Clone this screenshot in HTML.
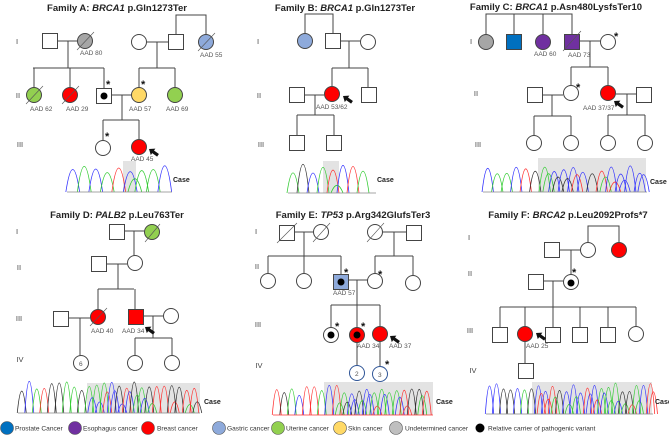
<!DOCTYPE html>
<html><head><meta charset="utf-8">
<style>
html,body{margin:0;padding:0;background:#fff;}
svg{display:block;font-family:"Liberation Sans",sans-serif;}
.t{font-size:9.5px;font-weight:bold;fill:#222;text-anchor:middle;}
.g{font-size:7.5px;fill:#444;text-anchor:middle;}
.l{font-size:6.5px;fill:#555;}
.a{font-size:11px;font-weight:bold;fill:#111;}
.c{font-size:7px;font-weight:bold;fill:#222;}
.lg{font-size:6.6px;fill:#333;}
.s{stroke:#444;stroke-width:1;fill:none;}
.n{stroke:#444;stroke-width:1;}
.sl{stroke:#555;stroke-width:0.6;}
</style></head><body>
<svg id="S" width="669" height="436" viewBox="0 0 669 436" xmlns="http://www.w3.org/2000/svg">
<defs>
<polygon id="arr" points="0,0 5,-4 5,-1.6 11,-1.6 11,1.6 5,1.6 5,4" fill="#111" transform="rotate(35)"/>
</defs>
<g id="chrom"></g>

<!-- ============ Panel A ============ -->
<text class="t" x="117" y="11">Family A: <tspan font-style="italic">BRCA1</tspan> p.Gln1273Ter</text>
<text class="g" x="17" y="44">I</text><text class="g" x="18" y="98">II</text><text class="g" x="20" y="147">III</text>
<path class="s" d="M58 41H77 M68 41V68 M33 68H104 M34 68V87 M70 68V87 M104 68V88
M147 42H168 M176 34V15H206V34 M157 42V68 M139 68H175 M139 68V87 M175 68V87
M111 95H131 M122 95V120 M103 120H139 M103 120V140 M139 120V139"/>
<rect class="n" x="42.5" y="33.5" width="15" height="15" fill="#fff"/>
<circle class="n" cx="85" cy="41" r="7.5" fill="#a6a6a6"/><line class="sl" x1="77" y1="50" x2="94" y2="32"/>
<circle class="n" cx="139" cy="42" r="7.5" fill="#fff"/>
<rect class="n" x="168.5" y="34.5" width="15" height="15" fill="#fff"/>
<circle class="n" cx="206" cy="42" r="7.5" fill="#8eaadb"/><line class="sl" x1="198" y1="51" x2="215" y2="33"/>
<text class="l" x="80" y="55">AAD 80</text><text class="l" x="200" y="57">AAD 55</text>
<circle class="n" cx="34" cy="95" r="7.5" fill="#92d050"/><line class="sl" x1="26" y1="104" x2="43" y2="86"/>
<circle class="n" cx="70" cy="95" r="7.5" fill="#ff0000"/><line class="sl" x1="62" y1="104" x2="79" y2="86"/>
<rect class="n" x="96.5" y="88.5" width="15" height="15" fill="#fff"/><circle cx="104" cy="96" r="3.5" fill="#000"/>
<circle class="n" cx="139" cy="95" r="7.5" fill="#ffd966"/>
<circle class="n" cx="175" cy="95" r="7.5" fill="#92d050"/>
<text class="a" x="106" y="88">*</text><text class="a" x="141" y="88">*</text>
<text class="l" x="30" y="111">AAD 62</text><text class="l" x="66" y="111">AAD 29</text><text class="l" x="129" y="111">AAD 57</text><text class="l" x="166" y="111">AAD 69</text>
<circle class="n" cx="103" cy="148" r="7.5" fill="#fff"/>
<circle class="n" cx="139" cy="147" r="7.5" fill="#ff0000"/>
<text class="a" x="105" y="140">*</text>
<use href="#arr" x="149" y="149"/>
<text class="l" x="131" y="161">AAD 45</text>
<text class="c" x="173" y="182">Case</text>

<!-- ============ Panel B ============ -->
<text class="t" x="345" y="11">Family B: <tspan font-style="italic">BRCA1</tspan> p.Gln1273Ter</text>
<text class="g" x="258" y="44">I</text><text class="g" x="259" y="98">II</text><text class="g" x="261" y="147">III</text>
<path class="s" d="M305 33V14H333V33 M340 41H360 M349 41V68 M332 68H368 M332 68V86 M368 68V87
M305 95H324 M315 95V115 M297 115H334 M297 115V135 M334 115V135"/>
<circle class="n" cx="305" cy="41" r="7.5" fill="#8eaadb"/>
<rect class="n" x="325.5" y="33.5" width="15" height="15" fill="#fff"/>
<circle class="n" cx="368" cy="42" r="7.5" fill="#fff"/>
<rect class="n" x="289.5" y="87.5" width="15" height="15" fill="#fff"/>
<circle class="n" cx="332" cy="94" r="7.5" fill="#ff0000"/>
<rect class="n" x="361.5" y="87.5" width="15" height="15" fill="#fff"/>
<use href="#arr" x="343" y="96"/>
<text class="l" x="316" y="109">AAD 53/62</text>
<rect class="n" x="289.5" y="135.5" width="15" height="15" fill="#fff"/>
<rect class="n" x="326.5" y="135.5" width="15" height="15" fill="#fff"/>
<text class="c" x="377" y="182">Case</text>

<!-- ============ Panel C ============ -->
<text class="t" x="556" y="10">Family C: <tspan font-style="italic">BRCA1</tspan> p.Asn480LysfsTer10</text>
<text class="g" x="471" y="44">I</text><text class="g" x="476" y="96">II</text><text class="g" x="478" y="147">III</text>
<path class="s" d="M486 34V14H572V34 M514 14V34 M543 14V34 M580 41H600 M590 41V67 M571 67H608 M571 67V85 M608 67V85
M542 95H563 M552 95V116 M534 116H571 M534 116V135 M571 116V135
M616 94H636 M627 94V115 M608 115H645 M608 115V135 M645 115V135"/>
<circle class="n" cx="486" cy="42" r="7.5" fill="#a6a6a6"/>
<rect class="n" x="506.5" y="34.5" width="15" height="15" fill="#0070c0"/>
<circle class="n" cx="543" cy="42" r="7.5" fill="#7030a0"/>
<rect class="n" x="564.5" y="34.5" width="15" height="15" fill="#7030a0"/><line class="sl" x1="563" y1="51" x2="581" y2="31"/>
<circle class="n" cx="608" cy="42" r="7.5" fill="#fff"/>
<text class="a" x="614" y="40">*</text>
<text class="l" x="534" y="56">AAD 60</text><text class="l" x="568" y="57">AAD 73</text>
<rect class="n" x="527.5" y="87.5" width="15" height="15" fill="#fff"/>
<circle class="n" cx="571" cy="93" r="7.5" fill="#fff"/>
<circle class="n" cx="608" cy="93" r="7.5" fill="#ff0000"/>
<rect class="n" x="636.5" y="87.5" width="15" height="15" fill="#fff"/>
<text class="a" x="576" y="91">*</text>
<use href="#arr" x="614" y="101"/>
<text class="l" x="583" y="110">AAD 37/37</text>
<circle class="n" cx="534" cy="143" r="7.5" fill="#fff"/>
<circle class="n" cx="571" cy="143" r="7.5" fill="#fff"/>
<circle class="n" cx="608" cy="143" r="7.5" fill="#fff"/>
<circle class="n" cx="645" cy="143" r="7.5" fill="#fff"/>
<text class="c" x="650" y="184">Case</text>

<!-- ============ Panel D ============ -->
<text class="t" x="117" y="218">Family D: <tspan font-style="italic">PALB2</tspan> p.Leu763Ter</text>
<text class="g" x="17" y="234">I</text><text class="g" x="19" y="270">II</text><text class="g" x="19" y="321">III</text><text class="g" x="20" y="362">IV</text>
<path class="s" d="M124 231H144 M134 231V255 M107 264H127 M118 264V289 M98 289H134 M98 289V309 M135 289V310
M69 318H90 M80 318V355 M143 316H163 M153 316V338 M135 338H172 M135 338V355 M172 338V355"/>
<rect class="n" x="109.5" y="224.5" width="15" height="15" fill="#fff"/>
<circle class="n" cx="152" cy="232" r="7.5" fill="#92d050"/><line class="sl" x1="145" y1="242" x2="160" y2="224"/>
<rect class="n" x="91.5" y="256.5" width="15" height="15" fill="#fff"/>
<circle class="n" cx="135" cy="263" r="7.5" fill="#fff"/>
<rect class="n" x="53.5" y="311.5" width="15" height="15" fill="#fff"/>
<circle class="n" cx="98" cy="317" r="7.5" fill="#ff0000"/><line class="sl" x1="90" y1="326" x2="107" y2="308"/>
<rect class="n" x="128.5" y="309.5" width="15" height="15" fill="#ff0000"/>
<circle class="n" cx="171" cy="316" r="7.5" fill="#fff"/>
<use href="#arr" x="145" y="327"/>
<text class="l" x="91" y="333">AAD 40</text><text class="l" x="122" y="333">AAD 34</text>
<circle class="n" cx="81" cy="363" r="7.5" fill="#fff"/><text class="l" x="79" y="366">6</text>
<circle class="n" cx="135" cy="363" r="7.5" fill="#fff"/>
<circle class="n" cx="172" cy="363" r="7.5" fill="#fff"/>
<text class="c" x="204" y="404">Case</text>

<!-- ============ Panel E ============ -->
<text class="t" x="353" y="218">Family E: <tspan font-style="italic">TP53</tspan> p.Arg342GlufsTer3</text>
<text class="g" x="256" y="234">I</text><text class="g" x="257" y="269">II</text><text class="g" x="258" y="327">III</text><text class="g" x="259" y="368">IV</text>
<path class="s" d="M294 232H314 M304 232V256 M268 256H341 M268 256V273 M304 256V273 M341 256V274
M383 232H406 M394 232V256 M375 256H413 M375 256V273 M413 256V275
M348 280H368 M357 280V305 M331 305H380 M331 305V327 M357 305V327 M380 305V326
M357 343V366 M380 342V367"/>
<rect class="n" x="279.5" y="225.5" width="15" height="15" fill="#fff"/><line class="sl" x1="277" y1="243" x2="297" y2="223"/>
<circle class="n" cx="321" cy="232" r="7.5" fill="#fff"/><line class="sl" x1="313" y1="242" x2="330" y2="223"/>
<circle class="n" cx="375" cy="232" r="7.5" fill="#fff"/><line class="sl" x1="367" y1="242" x2="384" y2="223"/>
<rect class="n" x="406.5" y="225.5" width="15" height="15" fill="#fff"/>
<circle class="n" cx="268" cy="281" r="7.5" fill="#fff"/>
<circle class="n" cx="304" cy="281" r="7.5" fill="#fff"/>
<rect class="n" x="333.5" y="274.5" width="15" height="15" fill="#8eaadb"/><circle cx="341" cy="282" r="3.5" fill="#000"/>
<circle class="n" cx="375" cy="281" r="7.5" fill="#fff"/>
<circle class="n" cx="413" cy="283" r="7.5" fill="#fff"/>
<text class="a" x="344" y="276">*</text><text class="a" x="378" y="278">*</text>
<text class="l" x="333" y="295">AAD 57</text>
<circle class="n" cx="331" cy="335" r="7.5" fill="#fff"/><circle cx="331" cy="335" r="3.5" fill="#000"/>
<circle class="n" cx="357" cy="335" r="7.5" fill="#ff0000"/><circle cx="357" cy="335" r="3.5" fill="#000"/>
<circle class="n" cx="380" cy="334" r="7.5" fill="#ff0000"/>
<text class="a" x="335" y="330">*</text><text class="a" x="361" y="330">*</text>
<use href="#arr" x="390" y="336"/>
<text class="l" x="357" y="348">AAD 34</text><text class="l" x="389" y="348">AAD 37</text>
<circle cx="357" cy="373" r="7.5" fill="#fff" stroke="#2f5597" stroke-width="1"/><text class="l" x="355" y="376">2</text>
<circle cx="380" cy="374" r="7.5" fill="#fff" stroke="#2f5597" stroke-width="1"/><text class="l" x="378" y="377">3</text>
<text class="a" x="385" y="368">*</text>
<text class="c" x="436" y="404">Case</text>

<!-- ============ Panel F ============ -->
<text class="t" x="568" y="218">Family F: <tspan font-style="italic">BRCA2</tspan> p.Leu2092Profs*7</text>
<text class="g" x="469" y="240">I</text><text class="g" x="470" y="276">II</text><text class="g" x="470" y="333">III</text><text class="g" x="473" y="373">IV</text>
<path class="s" d="M588 243V226H619V243 M560 250H580 M571 250V274 M544 281H563 M553 281V307 M500 307H636
M500 307V327 M525 307V327 M553 307V327 M580 307V327 M608 307V327 M636 307V327 M525 342V363"/>
<rect class="n" x="544.5" y="242.5" width="15" height="15" fill="#fff"/>
<circle class="n" cx="588" cy="250" r="7.5" fill="#fff"/>
<circle class="n" cx="619" cy="250" r="7.5" fill="#ff0000"/>
<rect class="n" x="528.5" y="274.5" width="15" height="15" fill="#fff"/>
<circle class="n" cx="571" cy="282" r="7.5" fill="#fff"/><circle cx="571" cy="283" r="3.5" fill="#000"/>
<text class="a" x="572" y="276">*</text>
<rect class="n" x="492.5" y="327.5" width="15" height="15" fill="#fff"/>
<circle class="n" cx="525" cy="334" r="7.5" fill="#ff0000"/>
<rect class="n" x="545.5" y="327.5" width="15" height="15" fill="#fff"/>
<rect class="n" x="572.5" y="327.5" width="15" height="15" fill="#fff"/>
<rect class="n" x="600.5" y="327.5" width="15" height="15" fill="#fff"/>
<circle class="n" cx="636" cy="334" r="7.5" fill="#fff"/>
<use href="#arr" x="536" y="333"/>
<text class="l" x="526" y="348">AAD 25</text>
<rect class="n" x="518.5" y="363.5" width="15" height="15" fill="#fff"/>
<text class="c" x="655" y="404">Case</text>

<!-- ============ Legend ============ -->
<circle cx="7" cy="428" r="6.5" fill="#0070c0" stroke="#555" stroke-width="0.6"/><text class="lg" x="15" y="430.5">Prostate Cancer</text>
<circle cx="75" cy="428" r="6.5" fill="#7030a0" stroke="#555" stroke-width="0.6"/><text class="lg" x="83" y="430.5">Esophagus cancer</text>
<circle cx="148" cy="428" r="6.5" fill="#ff0000" stroke="#555" stroke-width="0.6"/><text class="lg" x="157" y="430.5">Breast cancer</text>
<circle cx="219" cy="428" r="6.5" fill="#8eaadb" stroke="#555" stroke-width="0.6"/><text class="lg" x="227" y="430.5">Gastric cancer</text>
<circle cx="278" cy="428" r="6.5" fill="#92d050" stroke="#555" stroke-width="0.6"/><text class="lg" x="286" y="430.5">Uterine cancer</text>
<circle cx="340" cy="428" r="6.5" fill="#ffd966" stroke="#555" stroke-width="0.6"/><text class="lg" x="348" y="430.5">Skin cancer</text>
<circle cx="396" cy="428" r="6.5" fill="#bfbfbf" stroke="#555" stroke-width="0.6"/><text class="lg" x="405" y="430.5">Undetermined cancer</text>
<circle cx="480" cy="428" r="4.5" fill="#000"/><text class="lg" x="488" y="430.5">Relative carrier of pathogenic variant</text>
</svg>
<script>
(function(){
var g=document.getElementById('chrom'),ns='http://www.w3.org/2000/svg';
var cols=['#33cc33','#3333ff','#ff3333','#333333'];
var seed=7;function rnd(){seed=(seed*9301+49297)%233280;return seed/233280;}
function el(n,a){var e=document.createElementNS(ns,n);for(var k in a)e.setAttribute(k,a[k]);g.appendChild(e);return e;}
function chrom(x0,x1,yt,yb,gx0,gx1,gy,sp,redBase){
 if(gx0!==null) el('rect',{x:gx0,y:gy,width:gx1-gx0,height:yb-gy,fill:'#e3e3e3'});
 for(var x=x0+sp/2;x<x1-sp/3;x+=sp){
  var c=cols[Math.floor(rnd()*4)],h=yt+rnd()*(yb-yt)*0.35,w=sp*0.6;
  el('path',{d:'M'+(x-w)+' '+yb+' Q'+x+' '+(2*h-yb)+' '+(x+w)+' '+yb,fill:'none',stroke:c,'stroke-width':0.8});
  if(gx0!==null && x>gx0 && x<gx1 && rnd()<0.8){
   var c2=cols[Math.floor(rnd()*4)],h2=yt+(yb-yt)*(0.3+rnd()*0.45),x2=x+sp*0.4;
   el('path',{d:'M'+(x2-w)+' '+yb+' Q'+x2+' '+(2*h2-yb)+' '+(x2+w)+' '+yb,fill:'none',stroke:c2,'stroke-width':0.8});
  }
 }
 el('line',{x1:x0,y1:yb,x2:x1,y2:yb,stroke:redBase?'#ff3333':'#888','stroke-width':0.8});
}
chrom(67,172,164,192,123,136,161,11.5,false);
chrom(288,376,163,193,323,339,161,10,false);
chrom(483,647,165,192,538,646,158,9.5,false);
chrom(18,200,381,413,87,200,383,7.5,false);
chrom(273,433,385,415,324,433,382,7.5,true);
chrom(486,653,382,414,532,652,382,7,false);
})();
</script>
</body></html>
